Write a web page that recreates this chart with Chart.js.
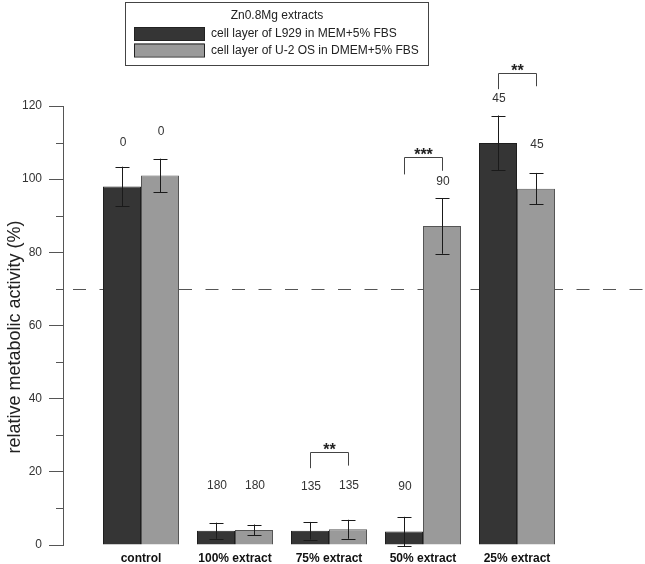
<!DOCTYPE html>
<html>
<head>
<meta charset="utf-8">
<script src="https://cdn.jsdelivr.net/npm/chart.js@4.4.1/dist/chart.umd.min.js"></script>
<style>
  body { margin: 0; background: #fff; }
  #wrap { width: 645px; height: 564px; }
</style>
</head>
<body>
<div id="wrap"><canvas id="myChart"></canvas></div>
<script>
const groups = ['control', '100% extract', '75% extract', '50% extract', '25% extract'];
const seriesNames = ['cell layer of L929 in MEM+5% FBS', 'cell layer of U-2 OS in DMEM+5% FBS'];
const legendTitle = 'Zn0.8Mg extracts';
const yTitle = 'relative metabolic activity (%)';
const yTicks = [0, 20, 40, 60, 80, 100, 120];

const l929Mean = [98, 3.9, 3.9, 3.7, 109.9];
const l929Err = [5.4, 2.2, 2.4, 4.0, 7.5];
const u2osMean = [101, 4.1, 4.3, 87.2, 97.4];
const u2osErr = [4.6, 1.5, 2.6, 7.6, 4.3];

// numbers printed over the bars and the y value they sit at
const l929Time = [0, 180, 135, 90, 45];
const u2osTime = [0, 180, 135, 90, 45];
const l929TimeAt = [110, 16.2, 15.9, 15.9, 121.9];
const u2osTimeAt = [113, 16.2, 16.3, 99.2, 109.5];

// significance brackets (group index, stars, top, left leg end, right leg end)
const sigGroup = [2, 3, 4];
const sigLabel = ['**', '***', '**'];
const sigTop = [25.5, 106, 129.1];
const sigLeft = [21, 101.3, 124.6];
const sigRight = [21.7, 102.3, 125.4];

const threshold = 70;

const FONT = '"Liberation Sans", Arial, sans-serif';
const colors = ['#353535', '#9a9a9a'];
const borders = ['#1e1e1e', '#555555'];

const toPoints = arr => arr.map((v, i) => ({ x: i + 1, y: v }));

// groups are 94px apart, first one 78px right of the y axis
const xMin = 1 - 78 / 94;
const xMax = xMin + 582 / 94;

const errorBars = {
  id: 'errorBars',
  afterDatasetsDraw(chart) {
    const ctx = chart.ctx;
    const y = chart.scales.y;
    const errs = [l929Err, u2osErr];
    const means = [l929Mean, u2osMean];
    ctx.save();
    ctx.strokeStyle = '#1a1a1a';
    ctx.lineWidth = 1;
    chart.data.datasets.forEach((ds, d) => {
      chart.getDatasetMeta(d).data.forEach((bar, i) => {
        const top = y.getPixelForValue(means[d][i] + errs[d][i]);
        const bot = y.getPixelForValue(means[d][i] - errs[d][i]);
        const x = Math.round(bar.x) + 0.5;
        ctx.beginPath();
        ctx.moveTo(x, top); ctx.lineTo(x, bot);
        ctx.moveTo(x - 7, Math.round(top) + 0.5); ctx.lineTo(x + 7, Math.round(top) + 0.5);
        ctx.moveTo(x - 7, Math.round(bot) + 0.5); ctx.lineTo(x + 7, Math.round(bot) + 0.5);
        ctx.stroke();
      });
    });
    ctx.restore();
  }
};

const thresholdLine = {
  id: 'thresholdLine',
  beforeDatasetsDraw(chart) {
    const ctx = chart.ctx;
    const yp = Math.round(chart.scales.y.getPixelForValue(threshold)) + 0.5;
    ctx.save();
    ctx.strokeStyle = '#555';
    ctx.lineWidth = 1;
    ctx.setLineDash([13, 13.5]);
    ctx.beginPath();
    ctx.moveTo(chart.chartArea.left + 10, yp);
    ctx.lineTo(chart.width, yp);
    ctx.stroke();
    ctx.restore();
  }
};

const annotations = {
  id: 'annotations',
  afterDraw(chart) {
    const ctx = chart.ctx;
    const y = chart.scales.y;
    const metaA = chart.getDatasetMeta(0).data;
    const metaB = chart.getDatasetMeta(1).data;
    ctx.save();

    // times above bars
    ctx.fillStyle = '#333';
    ctx.font = '12px ' + FONT;
    ctx.textAlign = 'center';
    ctx.textBaseline = 'middle';
    metaA.forEach((bar, i) => ctx.fillText(String(l929Time[i]), bar.x + 1, y.getPixelForValue(l929TimeAt[i])));
    metaB.forEach((bar, i) => ctx.fillText(String(u2osTime[i]), bar.x + 1, y.getPixelForValue(u2osTimeAt[i])));

    // significance brackets
    ctx.strokeStyle = '#444';
    ctx.lineWidth = 1;
    sigGroup.forEach((g, k) => {
      const x1 = Math.round(metaA[g].x) + 0.5;
      const x2 = Math.round(metaB[g].x) + 0.5;
      const top = Math.round(y.getPixelForValue(sigTop[k])) + 0.5;
      ctx.beginPath();
      ctx.moveTo(x1, y.getPixelForValue(sigLeft[k]));
      ctx.lineTo(x1, top);
      ctx.lineTo(x2, top);
      ctx.lineTo(x2, y.getPixelForValue(sigRight[k]));
      ctx.stroke();
      ctx.fillStyle = '#222';
      ctx.font = 'bold 16px ' + FONT;
      ctx.textBaseline = 'alphabetic';
      ctx.fillText(sigLabel[k], (x1 + x2) / 2, top + 2);
    });

    // y axis title
    ctx.fillStyle = '#222';
    ctx.font = '18px ' + FONT;
    ctx.textBaseline = 'middle';
    ctx.translate(15, 337);
    ctx.rotate(-Math.PI / 2);
    ctx.fillText(yTitle, 0, 0);
    ctx.setTransform(1, 0, 0, 1, 0, 0);

    // minor ticks on the y axis
    ctx.strokeStyle = '#555';
    const ax = chart.chartArea.left;
    for (let i = 0; i < yTicks.length - 1; i++) {
      const yp = Math.round(y.getPixelForValue((yTicks[i] + yTicks[i + 1]) / 2)) + 0.5;
      ctx.beginPath();
      ctx.moveTo(ax - 7, yp); ctx.lineTo(ax, yp);
      ctx.stroke();
    }

    // legend box
    ctx.strokeStyle = '#444';
    ctx.strokeRect(125.5, 2.5, 303, 63);
    ctx.fillStyle = '#222';
    ctx.font = '12px ' + FONT;
    ctx.textAlign = 'center';
    ctx.fillText(legendTitle, 277, 16);
    ctx.textAlign = 'left';
    chart.data.datasets.forEach((ds, d) => {
      const sy = 27 + d * 16.5;
      ctx.fillStyle = ds.backgroundColor;
      ctx.fillRect(134, sy, 70, 13);
      ctx.strokeStyle = '#222';
      ctx.strokeRect(134.5, sy + 0.5, 70, 13);
      ctx.fillStyle = '#222';
      ctx.fillText(ds.label, 211, sy + 7);
    });
    ctx.restore();
  }
};

new Chart(document.getElementById('myChart'), {
  type: 'bar',
  data: {
    datasets: [
      {
        label: seriesNames[0],
        data: toPoints(l929Mean),
        backgroundColor: colors[0],
        borderColor: borders[0],
        borderWidth: 1
      },
      {
        label: seriesNames[1],
        data: toPoints(u2osMean),
        backgroundColor: colors[1],
        borderColor: borders[1],
        borderWidth: 1
      }
    ]
  },
  options: {
    responsive: true,
    maintainAspectRatio: false,
    animation: false,
    categoryPercentage: 76 / 94,
    barPercentage: 1,
    layout: { padding: { top: 106, left: 0, right: 0, bottom: 0 } },
    plugins: {
      legend: { display: false },
      tooltip: { enabled: false }
    },
    scales: {
      x: {
        type: 'linear',
        min: xMin,
        max: xMax,
        offset: false,
        grid: { display: false, drawTicks: false },
        border: { display: false },
        afterBuildTicks: scale => { scale.ticks = groups.map((g, i) => ({ value: i + 1 })); },
        afterFit: scale => { scale.height = 19; },
        ticks: {
          autoSkip: false,
          maxRotation: 0,
          padding: 6,
          color: '#111',
          font: { family: FONT, size: 12, weight: 'bold' },
          callback: v => groups[v - 1]
        }
      },
      y: {
        min: 0,
        max: 120,
        afterBuildTicks: scale => { scale.ticks = yTicks.map(v => ({ value: v })); },
        afterFit: scale => { scale.width = 63; },
        grid: { drawOnChartArea: false, tickLength: 14, color: '#555' },
        border: { display: true, color: '#555' },
        ticks: {
          padding: 7,
          color: '#333',
          font: { family: FONT, size: 12 }
        }
      }
    }
  },
  plugins: [thresholdLine, errorBars, annotations]
});
</script>
</body>
</html>
